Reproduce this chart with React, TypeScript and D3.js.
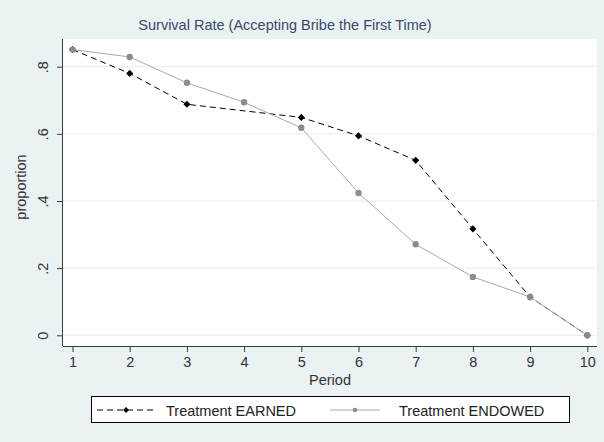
import { useEffect, useRef } from "react";
import * as d3 from "d3";

const periods = [1, 2, 3, 4, 5, 6, 7, 8, 9, 10];
// period 4 has no value for EARNED; the connected line skips it
const earned: (number | null)[] = [0.851, 0.78, 0.688, null, 0.649, 0.594, 0.521, 0.317, 0.114, 0];
const endowed: (number | null)[] = [0.851, 0.829, 0.752, 0.694, 0.618, 0.424, 0.271, 0.174, 0.114, 0];
const yTicks = [0, 0.2, 0.4, 0.6, 0.8];
const yTickLabels = ["0", ".2", ".4", ".6", ".8"];
const seriesNames = ["Treatment EARNED", "Treatment ENDOWED"];
const title = "Survival Rate (Accepting Bribe the First Time)";

const W = 604, H = 442;
const FONT = "'Liberation Sans', Arial, sans-serif";

export default function App() {
  const ref = useRef<SVGSVGElement | null>(null);

  useEffect(() => {
    const svg = d3.select(ref.current);
    svg.selectAll("*").remove();

    const plot = { l: 63, r: 597, t: 39, b: 346 };

    svg.append("rect").attr("width", W).attr("height", H).attr("fill", "#eaf2f3");
    svg.append("rect")
      .attr("x", plot.l).attr("y", plot.t)
      .attr("width", plot.r - plot.l).attr("height", plot.b - plot.t)
      .attr("fill", "#ffffff");

    const x = d3.scaleLinear().domain([1, 10]).range([72.5, 587.3]);
    const y = d3.scaleLinear().domain([0, 0.8]).range([335.3, 66.7]);

    // grid
    svg.append("g")
      .selectAll("line")
      .data(yTicks)
      .enter()
      .append("line")
      .attr("x1", plot.l).attr("x2", plot.r)
      .attr("y1", d => y(d)).attr("y2", d => y(d))
      .attr("stroke", "#e5eef0")
      .attr("stroke-width", 1);

    // axes
    const ax = d3.axisBottom(x).tickValues(periods).tickSize(6).tickPadding(5).tickFormat(d3.format("d"));
    svg.append("g")
      .attr("transform", `translate(0,${plot.b})`)
      .call(ax as any)
      .call((g: any) => g.select(".domain").attr("d", `M${plot.l},0.5H${plot.r}`).attr("stroke", "#3a3a3a"))
      .call((g: any) => g.selectAll("line").attr("stroke", "#3a3a3a"))
      .call((g: any) => g.selectAll("text")
        .attr("fill", "#333")
        .attr("font-family", FONT)
        .attr("font-size", 14.5));

    const ay = d3.axisLeft(y).tickValues(yTicks).tickSize(6).tickFormat((_, i) => yTickLabels[i]);
    svg.append("g")
      .attr("transform", `translate(${plot.l},0)`)
      .call(ay as any)
      .call((g: any) => g.select(".domain").attr("d", `M-0.5,${plot.t}V${plot.b}`).attr("stroke", "#3a3a3a"))
      .call((g: any) => g.selectAll("line").attr("stroke", "#3a3a3a"))
      .call((g: any) => g.selectAll("text")
        .attr("fill", "#333")
        .attr("font-family", FONT)
        .attr("font-size", 14.5)
        .attr("x", null).attr("dy", null)
        .attr("text-anchor", "middle")
        .attr("transform", "translate(-15,0) rotate(-90)"));

    // axis titles
    svg.append("text")
      .attr("x", 330).attr("y", 385)
      .attr("text-anchor", "middle")
      .attr("font-family", FONT).attr("font-size", 14.5)
      .attr("fill", "#333")
      .text("Period");

    svg.append("text")
      .attr("transform", `translate(26,187) rotate(-90)`)
      .attr("text-anchor", "middle")
      .attr("font-family", FONT).attr("font-size", 14.5)
      .attr("fill", "#333")
      .text("proportion");

    svg.append("text")
      .attr("x", 285).attr("y", 30)
      .attr("text-anchor", "middle")
      .attr("font-family", FONT).attr("font-size", 14.5)
      .attr("fill", "#3b4a68")
      .text(title);

    const diamond = d3.symbol().type(d3.symbolDiamond2).size(32);
    const circle = d3.symbol().type(d3.symbolCircle).size(32);

    const series = [
      { values: earned, stroke: "#000", dash: "6 4", marker: diamond, mfill: "#000" },
      { values: endowed, stroke: "#a9a9a9", dash: null, marker: circle, mfill: "#8c8c8c" }
    ];

    for (const s of series) {
      const pts = periods
        .map((p, i) => ({ p, v: s.values[i] }))
        .filter(d => d.v != null) as { p: number; v: number }[];

      const line = d3.line<{ p: number; v: number }>()
        .x(d => x(d.p))
        .y(d => y(d.v));

      svg.append("path")
        .datum(pts)
        .attr("d", line)
        .attr("fill", "none")
        .attr("stroke", s.stroke)
        .attr("stroke-width", 1)
        .attr("stroke-dasharray", s.dash);

      svg.append("g")
        .selectAll("path")
        .data(pts)
        .enter()
        .append("path")
        .attr("transform", d => `translate(${x(d.p)},${y(d.v)})`)
        .attr("d", s.marker as any)
        .attr("fill", s.mfill);
    }

    // legend
    const lg = svg.append("g");
    lg.append("rect")
      .attr("x", 91.5).attr("y", 396.5)
      .attr("width", 478).attr("height", 26)
      .attr("fill", "#fff")
      .attr("stroke", "#000")
      .attr("stroke-width", 1);

    const legendItems = [
      { x0: 97, x1: 155, tx: 166, s: series[0], size: 22 },
      { x0: 330, x1: 380, tx: 399, s: series[1], size: 16 }
    ];
    legendItems.forEach((it, i) => {
      const ly = 410;
      lg.append("line")
        .attr("x1", it.x0).attr("x2", it.x1)
        .attr("y1", ly).attr("y2", ly)
        .attr("stroke", it.s.stroke)
        .attr("stroke-width", 1)
        .attr("stroke-dasharray", it.s.dash);
      const sym = d3.symbol().type(i === 0 ? d3.symbolDiamond2 : d3.symbolCircle).size(it.size);
      lg.append("path")
        .attr("transform", `translate(${(it.x0 + it.x1) / 2},${ly})`)
        .attr("d", sym() as string)
        .attr("fill", it.s.mfill);
      lg.append("text")
        .attr("x", it.tx).attr("y", ly + 5.5)
        .attr("font-family", FONT).attr("font-size", 14.5)
        .attr("fill", "#222")
        .text(seriesNames[i]);
    });
  }, []);

  return (
    <svg
      ref={ref}
      width={W}
      height={H}
      style={{ position: "absolute", left: 0, top: 0, display: "block" }}
    />
  );
}
